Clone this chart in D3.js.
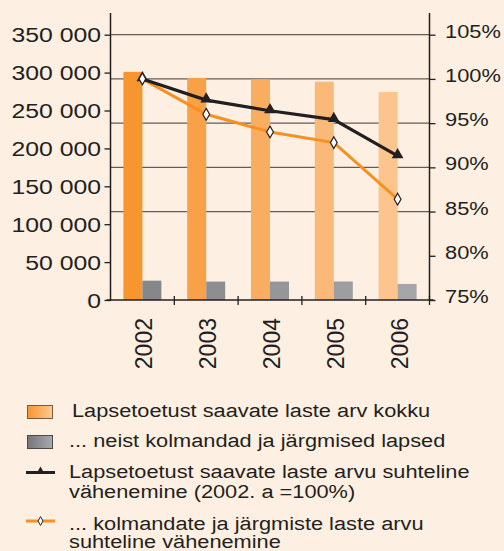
<!DOCTYPE html>
<html>
<head>
<meta charset="utf-8">
<script src="https://cdn.jsdelivr.net/npm/d3@7"></script>
<style>
  html, body { margin: 0; padding: 0; background: #fdf0e2; }
  svg { display: block; }
  text { font-family: "Liberation Sans", Arial, sans-serif; fill: #231f20; }
</style>
</head>
<body>
<div id="chart-area"></div>
<script>
// Andmed
var years = ["2002", "2003", "2004", "2005", "2006"];
var totalChildren = [301000, 293000, 291000, 288000, 274500];
var thirdChildren = [25500, 24300, 24300, 24400, 21200];
var totalPct = [100, 97.6, 96.4, 95.4, 91.3];
var thirdPct = [100, 96.0, 94.0, 92.8, 86.4];
var leftTicks = [0, 50000, 100000, 150000, 200000, 250000, 300000, 350000];
var rightTicks = [75, 80, 85, 90, 95, 100, 105];
var gridTicks = [85, 90, 95, 100, 105];
var legendLabels = [
    ["Lapsetoetust saavate laste arv kokku"],
    ["... neist kolmandad ja järgmised lapsed"],
    ["Lapsetoetust saavate laste arvu suhteline", "vähenemine (2002. a =100%)"],
    ["... kolmandate ja järgmiste laste arvu", "suhteline vähenemine"]
];

var orangeShades = ["#f7962e", "#f8a149", "#f9ad60", "#fbb979", "#fcc58d"];
var grayShades = ["#86878b", "#8d8e92", "#95969a", "#9d9ea2", "#a5a6aa"];
var SX = 1.18; // tekst on horisontaalselt venitatud

var width = 504, height = 551;
var svg = d3.select("#chart-area").append("svg")
    .attr("width", width)
    .attr("height", height);

var defs = svg.append("defs");
function grad(id, c1, c2) {
    var g = defs.append("linearGradient").attr("id", id);
    g.append("stop").attr("offset", "0%").attr("stop-color", c1);
    g.append("stop").attr("offset", "100%").attr("stop-color", c2);
}
grad("gOrange", "#f7962e", "#fcc995");
grad("gGray", "#75767a", "#a8a9ad");

function stext(sel, x, y, str, size, anchor, sx) {
    return sel.append("text")
        .attr("transform", "translate(" + x + "," + y + ") scale(" + (sx || SX) + ",1)")
        .attr("text-anchor", anchor || "start")
        .style("font-size", size + "px")
        .text(str);
}

var x0 = 110.5, x1 = 429.5, yTop = 34.7, yBase = 300;

var x = d3.scaleBand().domain(years).range([x0, x1]);
var yLeft = d3.scaleLinear().domain([0, 350000]).range([yBase, yTop]);
var yRight = d3.scaleLinear().domain([75, 105]).range([yBase, yTop]);
var barW = 19;

// Ruudustik
svg.append("g").selectAll("line").data(gridTicks).enter().append("line")
    .attr("x1", x0).attr("x2", x1)
    .attr("y1", d => yRight(d)).attr("y2", d => yRight(d))
    .attr("stroke", "#645c59").attr("stroke-width", 1.3);

// Tulbad
svg.append("g").selectAll("rect").data(totalChildren).enter().append("rect")
    .attr("x", (d, i) => x(years[i]) + x.bandwidth() / 2 - barW)
    .attr("y", d => yLeft(d))
    .attr("width", barW)
    .attr("height", d => yBase - yLeft(d))
    .attr("fill", (d, i) => orangeShades[i]);

svg.append("g").selectAll("rect").data(thirdChildren).enter().append("rect")
    .attr("x", (d, i) => x(years[i]) + x.bandwidth() / 2)
    .attr("y", d => yLeft(d))
    .attr("width", barW)
    .attr("height", d => yBase - yLeft(d))
    .attr("fill", (d, i) => grayShades[i]);

// Teljed
var leftAxis = d3.axisLeft(yLeft).tickValues(leftTicks).tickSize(6)
    .tickFormat(d => d3.format(",")(d).replace(/,/g, " "));
var gl = svg.append("g").attr("transform", "translate(" + x0 + ",0)").call(leftAxis);
gl.select(".domain").remove();
gl.selectAll("line").attr("stroke", "#231f20").attr("stroke-width", 1.3);
gl.selectAll("text").remove();
leftTicks.forEach(function(t) {
    stext(svg, 101, yLeft(t) + 7.5, d3.format(",")(t).replace(/,/g, " "), 21, "end");
});

var rightAxis = d3.axisRight(yRight).tickValues(rightTicks).tickSize(6);
var gr = svg.append("g").attr("transform", "translate(" + x1 + ",0)").call(rightAxis);
gr.select(".domain").remove();
gr.selectAll("line").attr("stroke", "#231f20").attr("stroke-width", 1.3);
gr.selectAll("text").remove();
rightTicks.forEach(function(t) {
    stext(svg, 445, yRight(t) + 3, t + "%", 18.5, "start");
});

svg.append("line").attr("x1", x0).attr("x2", x0).attr("y1", 13).attr("y2", yBase + 1)
    .attr("stroke", "#231f20").attr("stroke-width", 1.5);
svg.append("line").attr("x1", x1).attr("x2", x1).attr("y1", 13).attr("y2", yBase + 1)
    .attr("stroke", "#231f20").attr("stroke-width", 1.5);
svg.append("line").attr("x1", x0 - 4).attr("x2", x1 + 4).attr("y1", yBase).attr("y2", yBase)
    .attr("stroke", "#231f20").attr("stroke-width", 1.5);

// x-telje jaotised kategooriate vahel
svg.append("g").selectAll("line").data(years).enter().append("line")
    .attr("x1", d => x(d) + x.bandwidth()).attr("x2", d => x(d) + x.bandwidth())
    .attr("y1", yBase - 4).attr("y2", yBase + 5)
    .attr("stroke", "#231f20").attr("stroke-width", 1.3);

years.forEach(function(yr) {
    svg.append("text")
        .attr("transform", "translate(" + (x(yr) + x.bandwidth() / 2 + 10) + ",318) rotate(-90)")
        .attr("text-anchor", "end")
        .style("font-size", "23px")
        .text(yr);
});

// Jooned
var cx = d => x(d) + x.bandwidth() / 2;
var lineTotal = d3.line().x((d, i) => cx(years[i])).y(d => yRight(d));

svg.append("path").datum(thirdPct)
    .attr("d", lineTotal)
    .attr("fill", "none").attr("stroke", "#f7901e").attr("stroke-width", 3);
svg.append("path").datum(totalPct)
    .attr("d", lineTotal)
    .attr("fill", "none").attr("stroke", "#231f20").attr("stroke-width", 3.2);

var tri = d3.symbol().type(d3.symbolTriangle).size(60);
svg.append("g").selectAll("path").data(totalPct).enter().append("path")
    .attr("d", tri)
    .attr("transform", (d, i) => "translate(" + cx(years[i]) + "," + (yRight(d) - 1) + ")")
    .attr("fill", "#231f20");

var dia = d3.symbol().type(d3.symbolDiamond).size(40);
svg.append("g").selectAll("path").data(thirdPct).enter().append("path")
    .attr("d", dia)
    .attr("transform", (d, i) => "translate(" + cx(years[i]) + "," + yRight(d) + ")")
    .attr("fill", "#ffffff").attr("stroke", "#231f20").attr("stroke-width", 1.2);

// Legend
var legend = svg.append("g");
legend.append("rect").attr("x", 27.5).attr("y", 405.5).attr("width", 25).attr("height", 13)
    .attr("fill", "url(#gOrange)").attr("stroke", "#7a5a3a").attr("stroke-width", 1);
legend.append("rect").attr("x", 27.5).attr("y", 435.5).attr("width", 25).attr("height", 13)
    .attr("fill", "url(#gGray)").attr("stroke", "#4a4a4a").attr("stroke-width", 1);
legend.append("line").attr("x1", 26).attr("x2", 55).attr("y1", 472.5).attr("y2", 472.5)
    .attr("stroke", "#231f20").attr("stroke-width", 3);
legend.append("path").attr("d", d3.symbol().type(d3.symbolTriangle).size(25))
    .attr("transform", "translate(40.5,471)").attr("fill", "#231f20");
legend.append("line").attr("x1", 26).attr("x2", 55).attr("y1", 521).attr("y2", 521)
    .attr("stroke", "#f7901e").attr("stroke-width", 3);
legend.append("path").attr("d", d3.symbol().type(d3.symbolDiamond).size(22))
    .attr("transform", "translate(40.5,521)")
    .attr("fill", "#ffffff").attr("stroke", "#231f20").attr("stroke-width", 1);

var legendY = [[417], [447], [477.5, 498], [530, 548]];
var legendX = [72, 69, 69, 69];
legendLabels.forEach(function(lines, i) {
    lines.forEach(function(s, j) {
        stext(legend, legendX[i], legendY[i][j], s, 18, "start", 1.21);
    });
});
</script>
</body>
</html>
